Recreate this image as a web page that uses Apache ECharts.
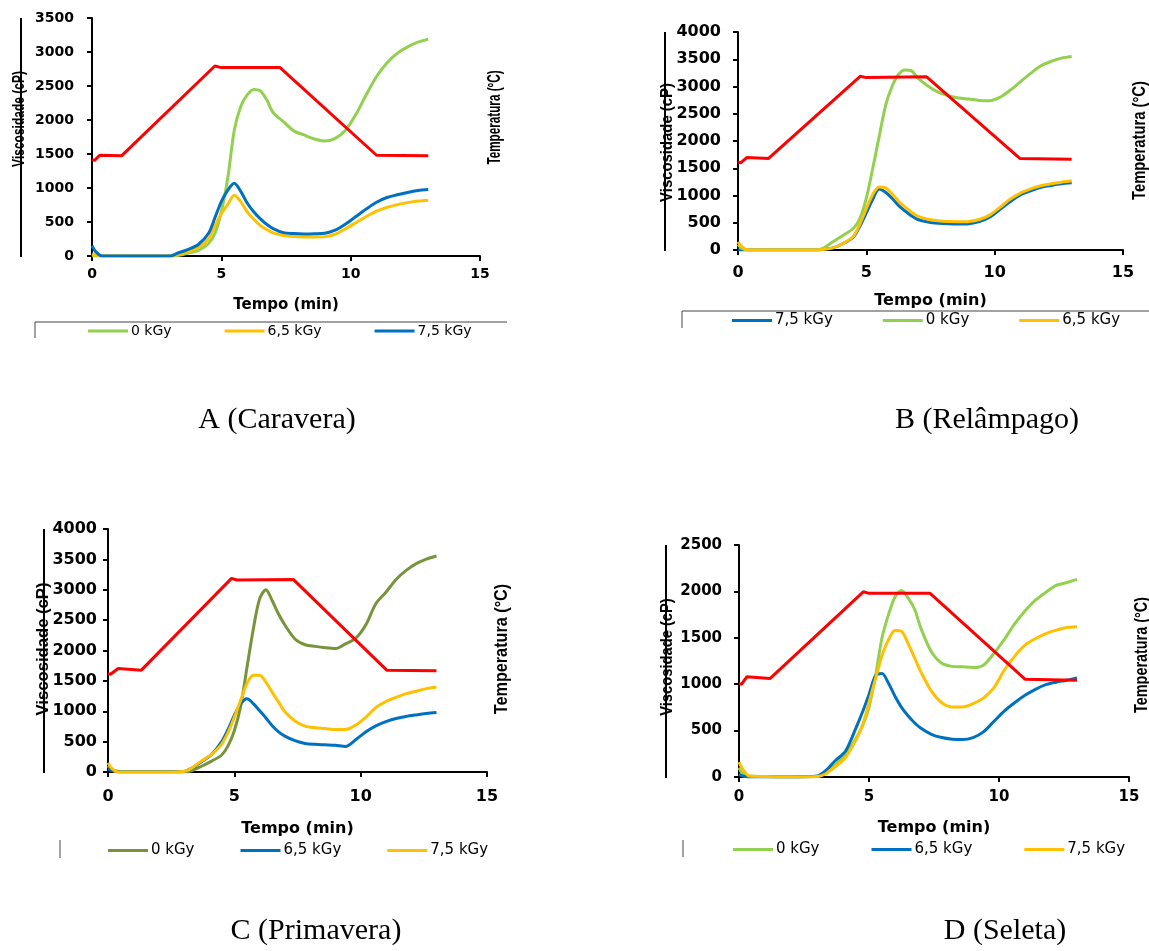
<!DOCTYPE html>
<html>
<head>
<meta charset="utf-8">
<title>Viscosidade x Tempo</title>
<script src="https://cdn.jsdelivr.net/npm/echarts@6/dist/echarts.min.js"></script>
<style>
  html, body { margin: 0; padding: 0; background: #fff; }
  #chart { width: 1149px; height: 951px; }
</style>
</head>
<body>
<div id="chart"></div>
<script>
// tempo (min) comum a todas as curvas de viscosidade
const tempo = [0, 0.15, 0.4, 1, 2, 3, 3.3, 3.7, 4.1, 4.5, 4.75, 5.0, 5.25, 5.5, 5.75, 6.0, 6.25, 6.5, 6.75, 7.0,
  7.4, 7.8, 8.2, 8.6, 9.0, 9.4, 9.8, 10.2, 10.6, 11.0, 11.4, 11.8, 12.2, 12.6, 13.0]

// A (Caravera) - viscosidade (cP)
const caravera0 = [0, 0, 0, 0, 0, 0, 5, 40, 80, 180, 330, 650, 1150, 1850, 2200, 2370, 2450, 2430, 2300, 2110,
  1975, 1840, 1780, 1720, 1690, 1730, 1850, 2080, 2370, 2640, 2840, 2980, 3075, 3145, 3190]
const caravera65 = [30, 10, 0, 0, 0, 0, 20, 60, 120, 250, 440, 620, 760, 895, 800, 650, 540, 450, 390, 340,
  300, 285, 280, 280, 285, 320, 400, 490, 580, 660, 715, 755, 785, 808, 820]
const caravera75 = [150, 60, 0, 0, 0, 0, 40, 95, 165, 330, 560, 800, 970, 1070, 950, 780, 650, 550, 467, 403,
  344, 330, 325, 328, 335, 380, 470, 580, 690, 790, 860, 900, 935, 962, 978]
// A - temperatura (°C)
const caraveraTempoT = [0, 0.1, 0.3, 1.15, 4.75, 5.0, 7.27, 11.0, 13.0]
const caraveraTemp = [48.6, 48.2, 50.8, 50.6, 95.8, 95.0, 95.0, 50.8, 50.5]

// B (Relâmpago)
const relampago75 = [0, 0, 0, 0, 0, 0, 10, 40, 120, 240, 440, 680, 930, 1120, 1060, 950, 820, 720, 630, 560,
  515, 492, 480, 476, 482, 520, 600, 740, 885, 1010, 1085, 1150, 1185, 1215, 1234]
const relampago0 = [100, 30, 0, 0, 0, 0, 30, 150, 270, 400, 575, 950, 1500, 2080, 2650, 3000, 3220, 3305, 3290, 3160,
  3010, 2895, 2830, 2790, 2770, 2745, 2740, 2800, 2930, 3085, 3240, 3380, 3460, 3520, 3550]
const relampago65 = [150, 60, 0, 0, 0, 0, 10, 40, 120, 250, 480, 760, 1020, 1155, 1140, 1030, 900, 790, 700, 620,
  565, 535, 522, 519, 525, 560, 640, 780, 930, 1045, 1120, 1180, 1215, 1245, 1270]
const relampagoTempoT = [0, 0.1, 0.35, 1.19, 4.76, 5.0, 7.35, 10.98, 13.0]
const relampagoTemp = [48.5, 48.0, 50.9, 50.4, 95.6, 94.9, 95.3, 50.4, 50.0]

// C (Primavera)
const primavera0 = [100, 30, 0, 0, 0, 0, 20, 95, 180, 280, 430, 680, 1080, 1720, 2350, 2850, 3000, 2820, 2600, 2420,
  2190, 2095, 2068, 2046, 2033, 2110, 2200, 2420, 2770, 2960, 3170, 3320, 3430, 3505, 3555]
const primavera65 = [50, 30, 10, 5, 5, 10, 60, 170, 290, 500, 700, 930, 1120, 1205, 1126, 1010, 890, 760, 660, 590,
  515, 470, 455, 448, 440, 420, 530, 660, 760, 830, 880, 915, 940, 962, 978]
const primavera75 = [150, 60, 0, 0, 0, 10, 60, 180, 290, 460, 650, 900, 1180, 1460, 1594, 1594, 1480, 1310, 1150, 990,
  840, 755, 728, 716, 700, 700, 770, 900, 1060, 1160, 1230, 1290, 1330, 1372, 1400]
const primaveraTempoT = [0, 0.1, 0.4, 1.32, 4.89, 5.1, 7.33, 11.03, 13.0]
const primaveraTemp = [48.5, 48.3, 51.1, 50.3, 95.6, 94.8, 95.1, 50.3, 50.0]

// D (Seleta)
const seleta0 = [100, 30, 10, 5, 0, 5, 40, 130, 240, 415, 550, 750, 1090, 1500, 1750, 1940, 2010, 1930, 1810, 1600,
  1350, 1225, 1192, 1187, 1180, 1205, 1330, 1480, 1650, 1790, 1905, 1990, 2065, 2095, 2129]
const seleta65 = [30, 10, 0, 0, 0, 10, 60, 175, 280, 530, 700, 890, 1090, 1115, 1010, 870, 750, 660, 585, 525,
  460, 425, 408, 403, 424, 486, 598, 710, 800, 880, 945, 995, 1022, 1043, 1068]
const seleta75 = [160, 80, 10, 5, 0, 5, 30, 110, 210, 400, 560, 800, 1060, 1310, 1480, 1580, 1570, 1440, 1285, 1130,
  925, 800, 755, 755, 790, 850, 960, 1150, 1300, 1420, 1490, 1545, 1583, 1611, 1619]
const seletaTempoT = [0, 0.1, 0.3, 1.19, 4.78, 5.0, 7.35, 11.0, 13.0]
const seletaTemp = [48.3, 48.0, 51.8, 50.9, 95.8, 95.0, 95.0, 50.6, 50.1]

const VERDE = '#92D050'
const OLIVA = '#77933C'
const AZUL = '#0070C0'
const AMARELO = '#FFC000'
const VERMELHO = '#FF0000'

const panels = [
    {
        grid: { left: 92, top: 18, width: 388, height: 238 },
        yMax: 3500, label: 14, labelGapY: 18, labelGapX: 11, xName: 15, xNameGap: 42,
        legend: { left: 88, top: 324, itemGap: 53, size: 14 },
        curves: [
            { name: '0 kGy', color: VERDE, data: caravera0 },
            { name: '6,5 kGy', color: AMARELO, data: caravera65 },
            { name: '7,5 kGy', color: AZUL, data: caravera75 },
        ],
        tempT: caraveraTempoT, temp: caraveraTemp,
    },
    {
        grid: { left: 738, top: 32, width: 385, height: 218 },
        yMax: 4000, label: 16, labelGapY: 17, labelGapX: 15, xName: 16, xNameGap: 43,
        legend: { left: 732, top: 313, itemGap: 50, size: 15 },
        curves: [
            { name: '7,5 kGy', color: AZUL, data: relampago75 },
            { name: '0 kGy', color: VERDE, data: relampago0 },
            { name: '6,5 kGy', color: AMARELO, data: relampago65 },
        ],
        tempT: relampagoTempoT, temp: relampagoTemp,
    },
    {
        grid: { left: 108, top: 529, width: 379, height: 243 },
        yMax: 4000, label: 16, labelGapY: 11, labelGapX: 17, xName: 16, xNameGap: 49,
        legend: { left: 108, top: 843, itemGap: 46, size: 15 },
        curves: [
            { name: '0 kGy', color: OLIVA, data: primavera0 },
            { name: '6,5 kGy', color: AZUL, data: primavera65 },
            { name: '7,5 kGy', color: AMARELO, data: primavera75 },
        ],
        tempT: primaveraTempoT, temp: primaveraTemp,
    },
    {
        grid: { left: 739, top: 545, width: 390, height: 232 },
        yMax: 2500, label: 15, labelGapY: 17, labelGapX: 13, xName: 16, xNameGap: 43,
        legend: { left: 733, top: 842, itemGap: 52, size: 15 },
        curves: [
            { name: '0 kGy', color: VERDE, data: seleta0 },
            { name: '6,5 kGy', color: AZUL, data: seleta65 },
            { name: '7,5 kGy', color: AMARELO, data: seleta75 },
        ],
        tempT: seletaTempoT, temp: seletaTemp,
    },
]

const axisFont = '"DejaVu Sans", sans-serif'
const titleFont = '"Liberation Sans", Arial, sans-serif'
const blackLine = { color: '#000', width: 2 }

const grid = []
const xAxis = []
const yAxis = []
const series = []
const legend = []

panels.forEach((p, i) => {
    grid.push(Object.assign({ outerBoundsMode: 'none', containLabel: false }, p.grid))
    xAxis.push({
        gridIndex: i,
        type: 'value',
        min: 0,
        max: 15,
        interval: 5,
        name: 'Tempo (min)',
        nameLocation: 'middle',
        nameGap: p.xNameGap,
        nameTextStyle: { color: '#000', fontFamily: axisFont, fontWeight: 'bold', fontSize: p.xName },
        axisLine: { show: true, lineStyle: blackLine },
        axisTick: { show: true, length: 5, lineStyle: blackLine },
        axisLabel: { color: '#000', fontFamily: axisFont, fontWeight: 'bold', fontSize: p.label, margin: p.labelGapX },
        splitLine: { show: false },
    })
    yAxis.push({
        gridIndex: i,
        type: 'value',
        min: 0,
        max: p.yMax,
        interval: 500,
        axisLine: { show: true, lineStyle: blackLine },
        axisTick: { show: true, length: 5, lineStyle: blackLine },
        axisLabel: {
            color: '#000', fontFamily: axisFont, fontWeight: 'bold', fontSize: p.label, margin: p.labelGapY,
            formatter: (v) => String(v),
        },
        splitLine: { show: false },
    })
    // eixo secundario da temperatura (nao exibido no original)
    yAxis.push({ gridIndex: i, type: 'value', position: 'right', min: 0, max: 120, show: false })

    p.curves.forEach((c) => {
        series.push({
            type: 'line',
            name: c.name,
            xAxisIndex: i,
            yAxisIndex: 2 * i,
            data: tempo.map((t, k) => [t, c.data[k]]),
            showSymbol: false,
            smooth: 0.3,
            lineStyle: { color: c.color, width: 3 },
            itemStyle: { color: c.color },
            z: 2,
        })
    })
    series.push({
        type: 'line',
        name: 'Temperatura',
        xAxisIndex: i,
        yAxisIndex: 2 * i + 1,
        data: p.tempT.map((t, k) => [t, p.temp[k]]),
        showSymbol: false,
        lineStyle: { color: VERMELHO, width: 3 },
        itemStyle: { color: VERMELHO },
        z: 3,
    })

    legend.push({
        left: p.legend.left,
        top: p.legend.top,
        padding: 0,
        itemGap: p.legend.itemGap,
        itemWidth: 40,
        itemHeight: 3,
        icon: 'rect',
        selectedMode: false,
        textStyle: { color: '#000', fontFamily: axisFont, fontSize: p.legend.size, padding: [0, 0, 0, -2] },
        data: p.curves.map((c) => ({ name: c.name, itemStyle: { color: c.color } })),
    })
})

const vLine = (x, y1, y2, w, color) => ({
    type: 'line',
    shape: { x1: x, y1: y1, x2: x, y2: y2 },
    style: { stroke: color, lineWidth: w },
    silent: true,
})
const hLine = (y, x1, x2, w, color) => ({
    type: 'line',
    shape: { x1: x1, y1: y, x2: x2, y2: y },
    style: { stroke: color, lineWidth: w },
    silent: true,
})
// titulo vertical, condensado no sentido do texto como no original
const vText = (text, x, y, size, squeeze) => ({
    type: 'text',
    x: x,
    y: y,
    rotation: Math.PI / 2,
    scaleX: squeeze,
    z: 10,
    style: {
        text: text,
        font: 'bold ' + size + 'px ' + titleFont,
        fill: '#000',
        textAlign: 'center',
        textVerticalAlign: 'middle',
    },
})
const caption = (text, x, y) => ({
    type: 'text',
    x: x,
    y: y,
    style: {
        text: text,
        font: '30px "Liberation Serif", "Times New Roman", serif',
        fill: '#000',
        textAlign: 'center',
        textVerticalAlign: 'middle',
    },
})

const graphic = [
    // linhas da borda da area do grafico
    vLine(21, 18, 257, 2, '#000'),
    vLine(665, 32, 251, 2, '#000'),
    vLine(44, 529, 773, 2, '#000'),
    vLine(666, 545, 778, 2, '#000'),
    // moldura das legendas
    hLine(322, 35, 507, 1, '#444'),
    vLine(35, 322, 338, 1, '#444'),
    hLine(311, 682, 1149, 1, '#444'),
    vLine(682, 311, 328, 1, '#444'),
    vLine(60, 840, 858, 1, '#444'),
    vLine(683, 840, 857, 1, '#444'),
    // titulos dos eixos y
    vText('Viscosidade (cP)', 19.5, 119, 16, 0.75),
    vText('Viscosidade (cP)', 667.5, 142.5, 16, 0.93),
    vText('Viscosidade (cP)', 43.5, 649, 17, 0.98),
    vText('Viscosidade (cP)', 668, 657, 16, 0.92),
    vText('Temperatura (°C)', 495, 117.5, 18, 0.65),
    vText('Temperatura (°C)', 1140, 140.5, 18, 0.82),
    vText('Temperatura (°C)', 502.5, 649, 18, 0.9),
    vText('Temperatura (°C)', 1142, 655, 18, 0.8),
    // legendas das figuras
    caption('A (Caravera)', 277, 420),
    caption('B (Relâmpago)', 987, 420),
    caption('C (Primavera)', 316, 931),
    caption('D (Seleta)', 1005, 931),
]

const chart = echarts.init(document.getElementById('chart'))
chart.setOption({
    animation: false,
    backgroundColor: '#fff',
    grid: grid,
    xAxis: xAxis,
    yAxis: yAxis,
    legend: legend,
    series: series,
    graphic: graphic,
})
</script>
</body>
</html>
